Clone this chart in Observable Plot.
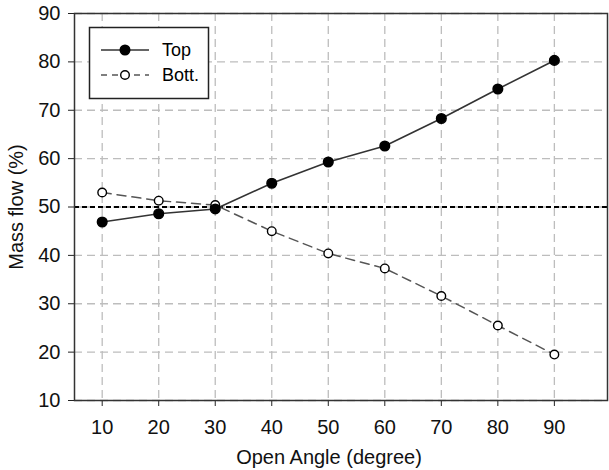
<!DOCTYPE html>
<html><head><meta charset="utf-8">
<script src="https://cdn.jsdelivr.net/npm/d3@7"></script>
<script src="https://cdn.jsdelivr.net/npm/@observablehq/plot@0.6"></script>
<style>
body{margin:0;background:#fff;}
#wrap{position:relative;width:609px;height:470px;}
#legend{position:absolute;left:0;top:0;}
</style>
</head><body><div id="wrap"></div>
<script>
const angles = [10, 20, 30, 40, 50, 60, 70, 80, 90];
const topFlow = [46.9, 48.6, 49.6, 54.9, 59.3, 62.6, 68.3, 74.4, 80.3];
const bottFlow = [53.0, 51.3, 50.4, 45.0, 40.4, 37.3, 31.6, 25.5, 19.5];
const yTicks = [10, 20, 30, 40, 50, 60, 70, 80, 90];
const seriesNames = ["Top", "Bott."];
const xLabel = "Open Angle (degree)";
const yLabel = "Mass flow (%)";

const topData = angles.map((a, i) => ({a, v: topFlow[i]}));
const bottData = angles.map((a, i) => ({a, v: bottFlow[i]}));
const font = "Liberation Sans, Arial, Helvetica, sans-serif";

const chart = Plot.plot({
  width: 609, height: 470,
  marginLeft: 74, marginRight: 2, marginTop: 13, marginBottom: 70,
  style: {fontFamily: font, fontSize: "20px", color: "#111", background: "#fff", overflow: "visible"},
  x: {domain: [5.1, 99.4]},
  y: {domain: [10, 90]},
  marks: [
    Plot.gridX(angles, {stroke: "#bdbdbd", strokeOpacity: 1, strokeDasharray: "8,5", strokeWidth: 1.3}),
    Plot.gridY(yTicks, {stroke: "#bdbdbd", strokeOpacity: 1, strokeDasharray: "8,5", strokeWidth: 1.3}),
    Plot.ruleY([50], {stroke: "#000", strokeWidth: 2, strokeDasharray: "5,3"}),
    Plot.line(bottData, {x: "a", y: "v", stroke: "#555", strokeWidth: 1.5, strokeDasharray: "9,6"}),
    Plot.line(topData, {x: "a", y: "v", stroke: "#333", strokeWidth: 1.6}),
    Plot.dot(bottData, {x: "a", y: "v", r: 4.3, fill: "#fff", stroke: "#000", strokeWidth: 1.4}),
    Plot.dot(topData, {x: "a", y: "v", r: 4.8, fill: "#000", stroke: "#000"}),
    Plot.axisX(angles, {tickSize: 6, tickPadding: 13, stroke: "#222", label: null}),
    Plot.text([xLabel], {text: d => d, frameAnchor: "bottom", lineAnchor: "middle", dy: 57, dx: -12, fill: "#111"}),
    Plot.axisY(yTicks, {tickSize: 6, tickPadding: 8, label: yLabel, labelAnchor: "center", labelArrow: "none", labelOffset: 66, stroke: "#222"}),
    Plot.frame({stroke: "#333", strokeWidth: 1.5})
  ]
});
d3.select(chart).selectAll("text").style("font-size", "20px").style("fill", "#111");
document.getElementById("wrap").appendChild(chart);

// legend overlay
const lg = d3.select("#wrap").append("svg").attr("id", "legend")
  .attr("width", 609).attr("height", 470)
  .style("font-family", font);
lg.append("rect").attr("x", 89.5).attr("y", 27.5).attr("width", 119).attr("height", 71)
  .attr("fill", "#fff").attr("stroke", "#222").attr("stroke-width", 1.5);
const rows = [
  {name: seriesNames[0], y: 50, dash: null, fill: "#000", stroke: "#333"},
  {name: seriesNames[1], y: 75, dash: "6,5", fill: "#fff", stroke: "#555"}
];
rows.forEach(r => {
  lg.append("line").attr("x1", 101).attr("x2", 149).attr("y1", r.y).attr("y2", r.y)
    .attr("stroke", r.stroke).attr("stroke-width", 1.5).attr("stroke-dasharray", r.dash);
  lg.append("circle").attr("cx", 125).attr("cy", r.y).attr("r", r.fill === "#000" ? 4.8 : 4.3)
    .attr("fill", r.fill).attr("stroke", "#000").attr("stroke-width", 1.4);
  lg.append("text").attr("x", 162).attr("y", r.y + 6).attr("font-size", 18).attr("fill", "#000").text(r.name);
});
</script></body></html>
